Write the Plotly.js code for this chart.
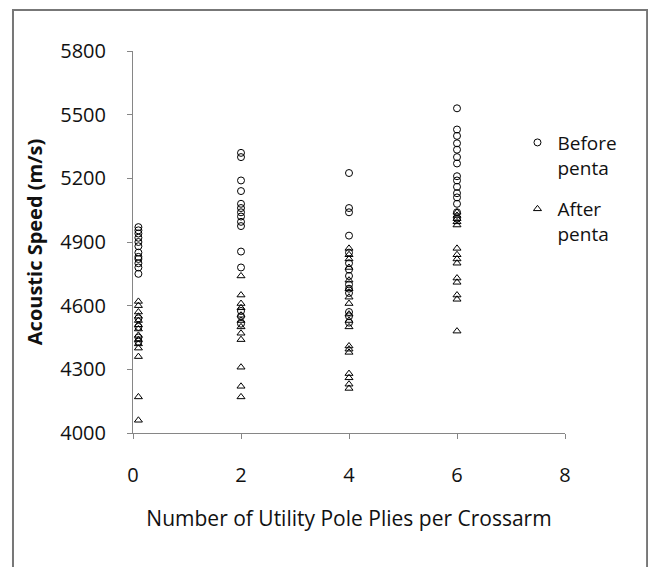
<!DOCTYPE html>
<html>
<head>
<meta charset="utf-8">
<script src="https://cdn.plot.ly/plotly-3.0.1.min.js"></script>
<style>html,body{margin:0;padding:0;background:#fff;}#chart{width:648px;height:567px;}</style>
</head>
<body>
<div id="chart"></div>
<script>
// Plies per crossarm (column positions) and acoustic speeds (m/s)
var beforeX0 = 0.1, beforeX2 = 2, beforeX4 = 4, beforeX6 = 6;
var before0 = [4970, 4955, 4940, 4920, 4900, 4880, 4850, 4830, 4820, 4800, 4780, 4750, 4540, 4500, 4450, 4430];
var before2 = [5320, 5300, 5190, 5140, 5080, 5060, 5040, 5020, 4995, 4975, 4855, 4780, 4575, 4550, 4515];
var before4 = [5225, 5060, 5040, 4930, 4850, 4800, 4770, 4740, 4700, 4680, 4660, 4570, 4550, 4520];
var before6 = [5530, 5430, 5400, 5365, 5335, 5300, 5270, 5210, 5190, 5160, 5130, 5110, 5080, 5040, 5010];
var after0 = [4620, 4600, 4570, 4550, 4530, 4510, 4490, 4460, 4440, 4420, 4400, 4360, 4170, 4060];
var after2 = [4740, 4650, 4610, 4590, 4555, 4530, 4500, 4470, 4440, 4310, 4220, 4170];
var after4 = [4870, 4840, 4820, 4780, 4720, 4680, 4640, 4610, 4560, 4530, 4500, 4410, 4395, 4380, 4280, 4260, 4230, 4210];
var after6 = [5040, 5025, 5010, 4995, 4980, 4870, 4840, 4820, 4800, 4730, 4710, 4650, 4630, 4480];
var xTicks = [0, 2, 4, 6, 8];
var yTicks = [4000, 4300, 4600, 4900, 5200, 5500, 5800];

function col(x, arr){ return arr.map(function(){ return x; }); }
var bx = [].concat(col(beforeX0, before0), col(beforeX2, before2), col(beforeX4, before4), col(beforeX6, before6));
var by = [].concat(before0, before2, before4, before6);
var ax = [].concat(col(beforeX0, after0), col(beforeX2, after2), col(beforeX4, after4), col(beforeX6, after6));
var ay = [].concat(after0, after2, after4, after6);

var font = "Open Sans, Noto Sans, sans-serif";
var traces = [
  {x: bx, y: by, type: 'scatter', mode: 'markers', name: 'Before<br>penta', legendgroup: 'b',
   marker: {symbol: 'circle-open', size: 7, color: '#000', line: {width: 1, color: '#000'}}},
  {x: ax, y: ay, type: 'scatter', mode: 'markers', name: 'After<br>penta', legendgroup: 'a',
   marker: {symbol: 'triangle-up-open', size: 7, color: '#000', line: {width: 1, color: '#000'}}}
];
var layout = {
  width: 648, height: 567,
  margin: {l: 133, r: 83, t: 51, b: 134},
  paper_bgcolor: '#fff', plot_bgcolor: '#fff',
  showlegend: true,
  legend: {x: 0.89, xanchor: 'left', y: 0.81, yanchor: 'top', font: {family: font, size: 19, color: '#111'},
           valign: 'top', traceorder: 'grouped', itemwidth: 30, tracegroupgap: 14, bgcolor: 'rgba(0,0,0,0)'},
  xaxis: {range: [0, 8], tickvals: xTicks, ticktext: xTicks.map(String), showgrid: false, zeroline: false,
          showline: true, linecolor: '#868686', linewidth: 1, ticks: 'outside', ticklen: 5, tickcolor: '#868686',
          ticklabelstandoff: 19,
          tickfont: {family: font, size: 20, color: '#111'},
          title: {text: 'Number of Utility Pole Plies per Crossarm', font: {family: font, size: 21, color: '#111'}, standoff: 24}},
  yaxis: {range: [4000, 5800], tickvals: yTicks, ticktext: yTicks.map(String), showgrid: false, zeroline: false,
          showline: true, linecolor: '#868686', linewidth: 1, ticks: 'outside', ticklen: 5, tickcolor: '#868686',
          ticklabelstandoff: 17,
          tickfont: {family: font, size: 20, color: '#111'},
          title: {text: '<b>Acoustic Speed (m/s)</b>', font: {family: font, size: 20, color: '#111'}, standoff: 12}},
  shapes: [{type: 'rect', xref: 'paper', yref: 'paper', x0: -0.2778, x1: 1.19, y0: -0.372, y1: 1.1073,
            line: {color: '#777', width: 2}}]
};
Plotly.newPlot('chart', traces, layout, {displayModeBar: false, staticPlot: true});
</script>
</body>
</html>
